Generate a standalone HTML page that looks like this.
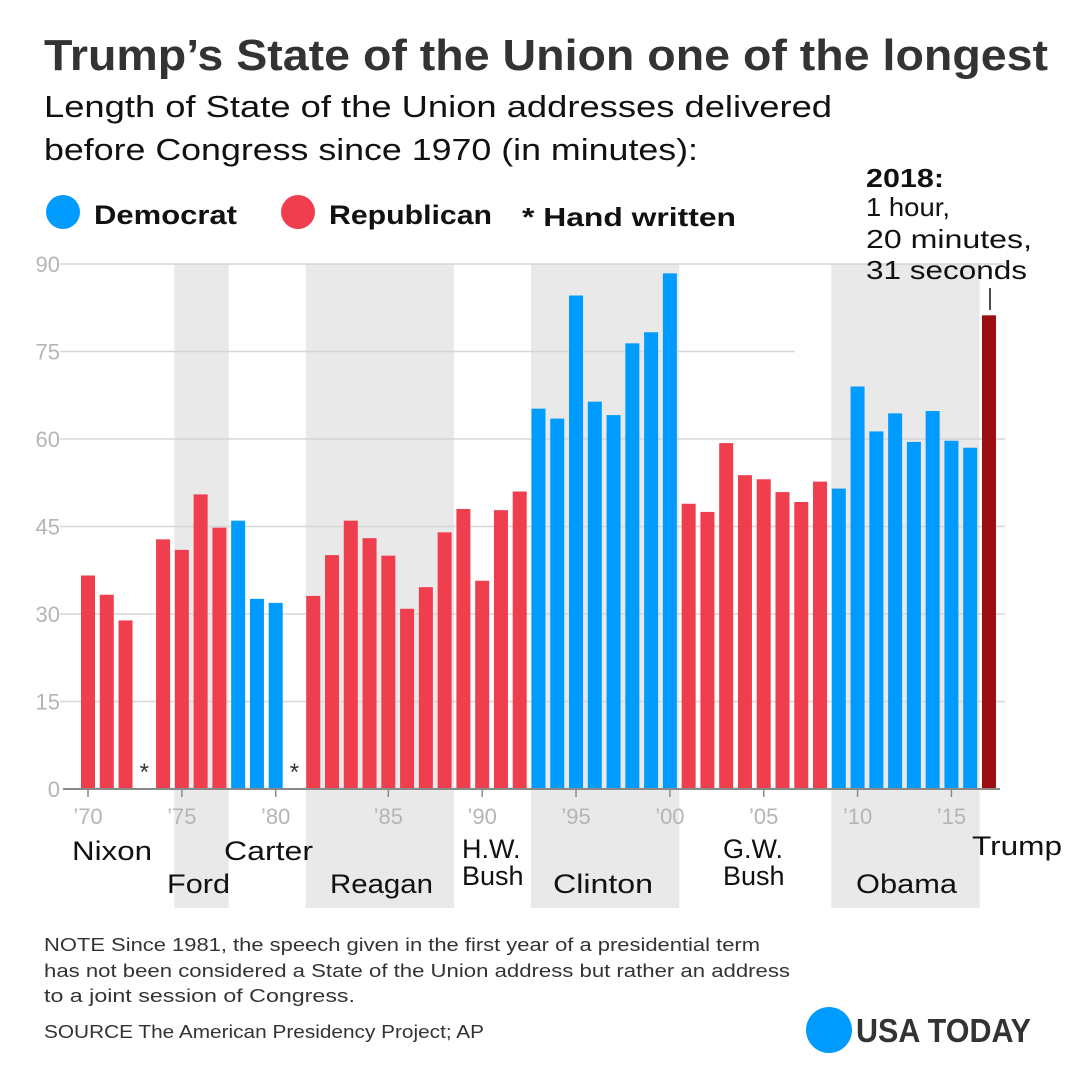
<!DOCTYPE html>
<html><head><meta charset="utf-8"><style>
body{margin:0;background:#fff}
svg{display:block;font-family:"Liberation Sans",sans-serif}
</style></head><body>
<svg id="c" width="1080" height="1080" viewBox="0 0 1080 1080">
<rect width="1080" height="1080" fill="#fff"/>
<text x="44" y="70" font-size="44" font-weight="bold" fill="#333" textLength="1004" lengthAdjust="spacingAndGlyphs">Trump’s State of the Union one of the longest</text>
<text x="44" y="117" font-size="31" fill="#111" textLength="788" lengthAdjust="spacingAndGlyphs">Length of State of the Union addresses delivered</text>
<text x="44" y="160" font-size="31" fill="#111" textLength="654" lengthAdjust="spacingAndGlyphs">before Congress since 1970 (in minutes):</text>
<g>
<circle cx="63" cy="212" r="17" fill="#009bff"/>
<text x="94" y="224" font-size="27" font-weight="bold" fill="#111" textLength="143" lengthAdjust="spacingAndGlyphs">Democrat</text>
<circle cx="298" cy="212" r="17" fill="#ef3e4e"/>
<text x="329" y="224" font-size="27" font-weight="bold" fill="#111" textLength="163" lengthAdjust="spacingAndGlyphs">Republican</text>
<text x="522" y="226" font-size="26" font-weight="bold" fill="#111" textLength="214" lengthAdjust="spacingAndGlyphs">* Hand written</text>
</g>
<g id="shade"></g>
<g id="grid"></g>
<g id="bars"></g>
<g id="axis"></g>
<g>
<text x="866" y="187" font-size="26" font-weight="bold" fill="#111" textLength="78" lengthAdjust="spacingAndGlyphs">2018:</text>
<text x="866" y="216" font-size="26" fill="#111" textLength="84" lengthAdjust="spacingAndGlyphs">1 hour,</text>
<text x="866" y="248" font-size="26" fill="#111" textLength="166" lengthAdjust="spacingAndGlyphs">20 minutes,</text>
<text x="866" y="279" font-size="26" fill="#111" textLength="161" lengthAdjust="spacingAndGlyphs">31 seconds</text>
<line x1="990" y1="288" x2="990" y2="310" stroke="#111" stroke-width="1.5"/>
</g>
<g font-size="27" fill="#111">
<text x="72" y="860" textLength="80" lengthAdjust="spacingAndGlyphs">Nixon</text>
<text x="167" y="893" textLength="63" lengthAdjust="spacingAndGlyphs">Ford</text>
<text x="224" y="860" textLength="89" lengthAdjust="spacingAndGlyphs">Carter</text>
<text x="330" y="893" textLength="103" lengthAdjust="spacingAndGlyphs">Reagan</text>
<text x="462" y="858">H.W.</text>
<text x="462" y="885">Bush</text>
<text x="553" y="893" textLength="100" lengthAdjust="spacingAndGlyphs">Clinton</text>
<text x="723" y="858">G.W.</text>
<text x="723" y="885">Bush</text>
<text x="856" y="893" textLength="101" lengthAdjust="spacingAndGlyphs">Obama</text>
<text x="972" y="855" textLength="90" lengthAdjust="spacingAndGlyphs">Trump</text>
</g>
<g font-size="18" fill="#333">
<text x="44" y="951" textLength="716" lengthAdjust="spacingAndGlyphs">NOTE Since 1981, the speech given in the first year of a presidential term</text>
<text x="44" y="977" textLength="746" lengthAdjust="spacingAndGlyphs">has not been considered a State of the Union address but rather an address</text>
<text x="44" y="1002" textLength="311" lengthAdjust="spacingAndGlyphs">to a joint session of Congress.</text>
</g>
<text x="44" y="1038" font-size="18" fill="#333" textLength="440" lengthAdjust="spacingAndGlyphs">SOURCE  The American Presidency Project; AP</text>
<g>
<circle cx="829" cy="1030" r="23" fill="#009bff"/>
<text x="856" y="1042" font-size="33" font-weight="bold" fill="#333" textLength="175" lengthAdjust="spacingAndGlyphs">USA TODAY</text>
</g>
</svg>
<script>
const slots=[0,1,2,3,4,5,6,7,8,9,10,11,12,13,14,15,16,17,18,19,20,21,22,23,24,25,26,27,28,29,30,31,32,33,34,35,36,37,38,39,40,41,42,43,44,45,46,47,48];
const values=[36.6,33.3,28.9,null,42.8,41,50.5,44.8,46,32.6,31.9,null,33.1,40.1,46,43,40,30.9,34.6,44,48,35.7,47.8,51,65.2,63.5,84.6,66.4,64.1,76.4,78.3,88.4,48.9,47.5,59.3,53.8,53.1,50.9,49.2,52.7,51.5,69.0,61.3,64.4,59.5,64.8,59.7,58.5,81.2];
const party=["R","R","R","R","R","R","R","R","D","D","D","D","R","R","R","R","R","R","R","R","R","R","R","R","D","D","D","D","D","D","D","D","R","R","R","R","R","R","R","R","D","D","D","D","D","D","D","D","T"];
const yTicks=[0,15,30,45,60,75,90];
const xTickSlots=[0,5,10,16,21,26,31,36,41,46];
const xTickLabels=["’70","’75","’80","’85","’90","’95","’00","’05","’10","’15"];
const shadeRanges=[[4.6,7.5],[11.6,19.5],[23.6,31.5],[39.6,47.5]];
const NS="http://www.w3.org/2000/svg";
const x=i=>88+i*18.77, y=v=>789-v*525/90;
const colors={R:"#ef3e4e",D:"#009bff",T:"#9b0d0f"};
function mk(p,t,a){const e=document.createElementNS(NS,t);for(const k in a)e.setAttribute(k,a[k]);document.getElementById(p).appendChild(e);return e;}
shadeRanges.forEach(r=>{const e=mk("shade","rect",{x:x(r[0]),y:264,width:x(r[1])-x(r[0]),height:644,fill:"#e9e9e9"});

});
yTicks.forEach(t=>{if(t>0){const l=mk("grid","line",{x1:60,x2:t==75?795:1005,y1:y(t),y2:y(t),stroke:"#d6d6d6","stroke-width":1.5});

}
const tx=mk("grid","text",{x:60,y:y(t)+8,"font-size":22,fill:"#b5b5b5","text-anchor":"end"});tx.textContent=t;

});
slots.forEach((s,i)=>{const v=values[i];
if(v==null){const t=mk("bars","text",{x:x(s),y:780,"font-size":24,fill:"#333","text-anchor":"middle"});t.textContent="*";

return;}
const b=mk("bars","rect",{x:x(s)-7,y:y(v),width:14,height:y(0)-y(v),fill:colors[party[i]]});

});
const ax=mk("axis","line",{x1:63,x2:1000,y1:789,y2:789,stroke:"#8a8a8a","stroke-width":2});


xTickSlots.forEach((s,i)=>{const l=mk("axis","line",{x1:x(s),x2:x(s),y1:789,y2:797,stroke:"#8a8a8a","stroke-width":1.5});


const t=mk("axis","text",{x:x(s),y:824,"font-size":22,fill:"#b5b5b5","text-anchor":"middle"});t.textContent=xTickLabels[i];

});
</script>
</body></html>
